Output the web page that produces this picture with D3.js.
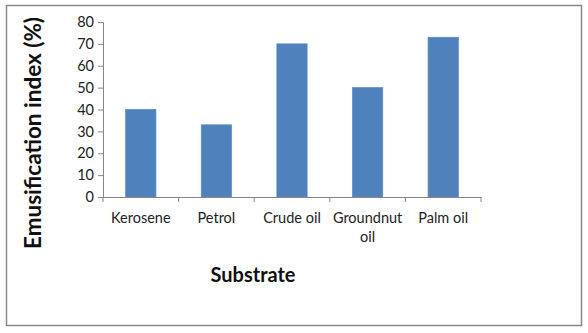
<!DOCTYPE html>
<html><head><meta charset="utf-8">
<script src="https://cdn.jsdelivr.net/npm/d3@7"></script>
<style>body{margin:0;background:#fff}</style>
</head><body>
<svg id="c" width="588" height="333"></svg>
<script>
const categories = [["Kerosene"], ["Petrol"], ["Crude oil"], ["Groundnut", "oil"], ["Palm oil"]];
const values = [40, 33, 70, 50, 73];
const yTicks = [0, 10, 20, 30, 40, 50, 60, 70, 80];
const yTitle = "Emusification index (%)";
const xTitle = "Substrate";

(function(){
const svg = d3.select("#c");
const font = "Lato, 'Open Sans', sans-serif";
svg.append("rect").attr("x", 6.5).attr("y", 5.5).attr("width", 575).attr("height", 320)
  .attr("fill", "#fff").attr("stroke", "#888").attr("stroke-width", 1.5);

const pLeft = 103, pRight = 481, pTop = 22, pBottom = 197;
const x = d3.scaleBand().domain(categories.map((d,i)=>i)).range([pLeft, pRight]).paddingInner(0.6).paddingOuter(0.3);
const xb = d3.scaleBand().domain(categories.map((d,i)=>i)).range([pLeft, pRight]);
const y = d3.scaleLinear().domain([0, 80]).range([pBottom, pTop]);

svg.selectAll(".bar").data(values).join("rect")
  .attr("x", (d,i)=>x(i)).attr("width", x.bandwidth())
  .attr("y", d=>y(d)).attr("height", d=>y(0)-y(d))
  .attr("fill", "#4F81BD").attr("stroke", "#5B8ECC").attr("stroke-width", 0.8);

const ya = svg.append("g").attr("transform", `translate(${pLeft},0)`)
  .call(d3.axisLeft(y).tickValues(yTicks).tickSize(5).tickPadding(4));
ya.select(".domain").attr("stroke", "#868686");
ya.selectAll(".tick line").attr("stroke", "#868686");
ya.selectAll(".tick text").attr("font-family", font).attr("font-size", 14.5).attr("fill", "#222");

const xa = svg.append("g").attr("transform", `translate(0,${pBottom})`);
xa.append("line").attr("x1", pLeft).attr("x2", pRight).attr("y1", 0.5).attr("y2", 0.5).attr("stroke", "#868686");
const edges = categories.map((d,i)=>xb(i)).concat([pRight]);
xa.selectAll(".xt").data(edges).join("line")
  .attr("x1", d=>d).attr("x2", d=>d).attr("y1", 0).attr("y2", 5).attr("stroke", "#868686");
const lbl = xa.selectAll(".xl").data(categories).join("text")
  .attr("x", (d,i)=>xb(i)+xb.bandwidth()/2).attr("y", 26)
  .attr("text-anchor", "middle").attr("font-family", font).attr("font-size", 14.5).attr("fill", "#222");
lbl.each(function(d){
  const t = d3.select(this);
  d.forEach((s,j)=>t.append("tspan").attr("x", t.attr("x")).attr("dy", j===0?0:19).text(s));
});

svg.append("text").attr("transform", "translate(41,133) rotate(-90)")
  .attr("text-anchor", "middle").attr("font-family", font).attr("font-weight", "bold")
  .attr("font-size", 22.5).attr("fill", "#111").text(yTitle);
svg.append("text").attr("x", 253).attr("y", 282)
  .attr("text-anchor", "middle").attr("font-family", font).attr("font-weight", "bold")
  .attr("font-size", 20).attr("fill", "#111").text(xTitle);
})();
</script>
</body></html>
